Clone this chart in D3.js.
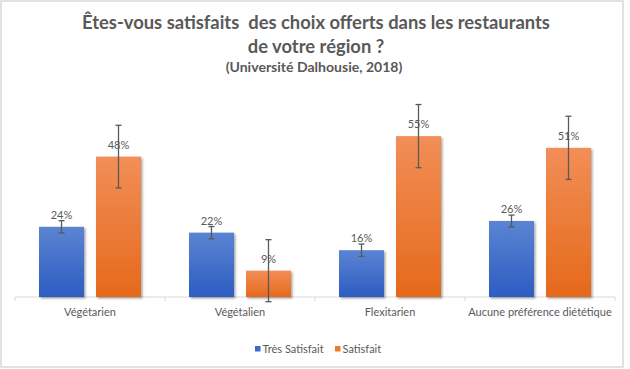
<!DOCTYPE html>
<html><head><meta charset="utf-8">
<script src="https://cdn.jsdelivr.net/npm/d3@7"></script>
<style>html,body{margin:0;padding:0;background:#fff;}svg{display:block;} text{white-space:pre;}</style>
</head><body>
<script>
const categories = ["Végétarien", "Végétalien", "Flexitarien", "Aucune préférence diététique"];
const seriesNames = ["Très Satisfait", "Satisfait"];
const tresSatisfait = [24, 22, 16, 26];
const satisfait = [48, 9, 55, 51];
const errTresSatisfait = [2.1, 2.1, 2.1, 2.0];
const errSatisfait = [10.7, 10.6, 10.8, 10.8];
const titleLines = ["Êtes-vous satisfaits  des choix offerts dans les restaurants", "de votre région ?"];
const subtitle = "(Université Dalhousie, 2018)";

const W = 630, H = 369;
const FONT = "Lato, 'Open Sans', sans-serif";
const svg = d3.select("body").append("svg").attr("width", W).attr("height", H);
const defs = svg.append("defs");

const grads = [["gBlue", "#5b84d2", "#2d5cc2"], ["gOrange", "#f28e57", "#e5691b"]];
grads.forEach(([id, c1, c2]) => {
  const g = defs.append("linearGradient").attr("id", id).attr("x1", 0).attr("y1", 0).attr("x2", 0).attr("y2", 1);
  g.append("stop").attr("offset", "0%").attr("stop-color", c1);
  g.append("stop").attr("offset", "100%").attr("stop-color", c2);
});
const f = defs.append("filter").attr("id", "shadow").attr("x", "-20%").attr("y", "-20%").attr("width", "150%").attr("height", "150%");
f.append("feDropShadow").attr("dx", 1.5).attr("dy", 1.5).attr("stdDeviation", 1).attr("flood-color", "#000").attr("flood-opacity", 0.35);

// frame
svg.append("rect").attr("x", 1).attr("y", 1).attr("width", 622).attr("height", 366)
  .attr("fill", "#fff").attr("stroke", "#d9d9d9").attr("stroke-width", 1.5);

// titles
function fitText(sel, target) {
  const w = sel.node().getComputedTextLength();
  const fs = parseFloat(sel.attr("font-size"));
  sel.attr("font-size", fs * target / w);
}
const t1 = svg.append("text").attr("x", 316).attr("y", 29).attr("text-anchor", "middle")
  .attr("font-family", FONT).attr("font-weight", "bold").attr("font-size", 17).attr("fill", "#595959")
  .text(titleLines[0]);
fitText(t1, 468);
const t1fs = t1.attr("font-size");
svg.append("text").attr("x", 316).attr("y", 53).attr("text-anchor", "middle")
  .attr("font-family", FONT).attr("font-weight", "bold").attr("font-size", t1fs).attr("fill", "#595959")
  .text(titleLines[1]);
const st = svg.append("text").attr("x", 314).attr("y", 72).attr("text-anchor", "middle")
  .attr("font-family", FONT).attr("font-weight", "bold").attr("font-size", 12).attr("fill", "#595959")
  .text(subtitle);
fitText(st, 177);

// scales
const x0 = d3.scaleBand().domain(categories).range([15, 615]).paddingInner(0).paddingOuter(0);
const x1 = d3.scaleBand().domain(seriesNames).range([0, x0.bandwidth()]).paddingInner(12 / 57).paddingOuter(24 / 57);
const y = d3.scaleLinear().domain([0, 60]).range([297, 121.5]);

// axis
const gAxis = svg.append("g").attr("transform", `translate(0,${y(0)})`);
gAxis.append("line").attr("x1", 15).attr("x2", 615).attr("stroke", "#d9d9d9").attr("stroke-width", 1);
const bounds = [...categories.map(c => x0(c)), x0.range()[1]];
gAxis.selectAll("line.tk").data(bounds).join("line").attr("class", "tk")
  .attr("x1", d => d).attr("x2", d => d).attr("y1", 0).attr("y2", 4).attr("stroke", "#d9d9d9");

const data = categories.map((c, i) => ({
  cat: c,
  vals: [
    { s: seriesNames[0], v: tresSatisfait[i], e: errTresSatisfait[i], fill: "url(#gBlue)" },
    { s: seriesNames[1], v: satisfait[i], e: errSatisfait[i], fill: "url(#gOrange)" }
  ]
}));

const gc = svg.append("g").selectAll("g").data(data).join("g")
  .attr("transform", d => `translate(${x0(d.cat)},0)`);
gc.selectAll("rect").data(d => d.vals).join("rect")
  .attr("x", d => x1(d.s)).attr("width", x1.bandwidth())
  .attr("y", d => y(d.v)).attr("height", d => y(0) - y(d.v))
  .attr("fill", d => d.fill).attr("filter", "url(#shadow)");

// labels
gc.selectAll("text.lbl").data(d => d.vals).join("text").attr("class", "lbl")
  .attr("x", d => x1(d.s) + x1.bandwidth() / 2).attr("y", d => y(d.v) - 8)
  .attr("text-anchor", "middle").attr("font-family", FONT).attr("font-size", 11).attr("fill", "#595959")
  .text(d => d.v + "%");

// error bars
const eb = gc.selectAll("g.eb").data(d => d.vals).join("g").attr("class", "eb")
  .attr("stroke", "#595959").attr("stroke-width", 1.3);
eb.append("line").attr("x1", d => x1(d.s) + x1.bandwidth() / 2).attr("x2", d => x1(d.s) + x1.bandwidth() / 2)
  .attr("y1", d => y(d.v + d.e)).attr("y2", d => y(d.v - d.e));
eb.append("line").attr("x1", d => x1(d.s) + x1.bandwidth() / 2 - 3).attr("x2", d => x1(d.s) + x1.bandwidth() / 2 + 3)
  .attr("y1", d => y(d.v + d.e)).attr("y2", d => y(d.v + d.e));
eb.append("line").attr("x1", d => x1(d.s) + x1.bandwidth() / 2 - 3).attr("x2", d => x1(d.s) + x1.bandwidth() / 2 + 3)
  .attr("y1", d => y(d.v - d.e)).attr("y2", d => y(d.v - d.e));

// category labels
svg.append("g").selectAll("text").data(categories).join("text")
  .attr("x", d => x0(d) + x0.bandwidth() / 2).attr("y", 315.5)
  .attr("text-anchor", "middle").attr("font-family", FONT).attr("font-size", 11).attr("fill", "#595959")
  .text(d => d);

// legend
const legColors = ["#3b6ccb", "#ee7a32"];
const legX = [255, 335];
const lg = svg.append("g").selectAll("g").data(seriesNames).join("g")
  .attr("transform", (d, i) => `translate(${legX[i]},346)`);
lg.append("rect").attr("width", 5.5).attr("height", 5.5).attr("fill", (d, i) => legColors[i]);
lg.append("text").attr("x", 7.5).attr("y", 6.5).attr("font-family", FONT).attr("font-size", 11).attr("fill", "#595959")
  .text(d => d);
</script>
</body></html>
